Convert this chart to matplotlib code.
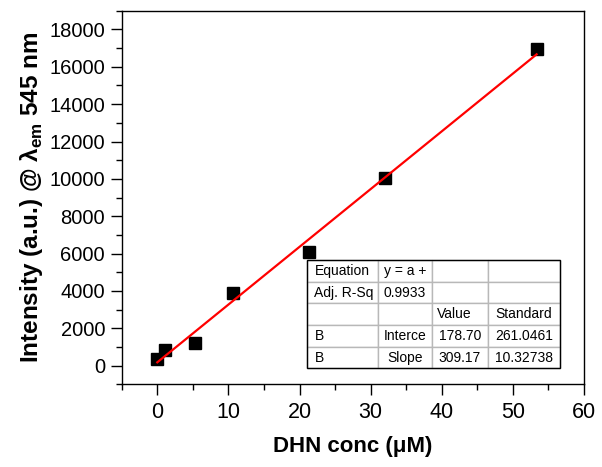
import numpy as np
import matplotlib
matplotlib.use("Agg")
import matplotlib.pyplot as plt
from matplotlib.patches import Rectangle

plt.rcParams['font.family'] = ['Liberation Sans', 'DejaVu Sans']
plt.rcParams['mathtext.fontset'] = 'custom'
plt.rcParams['mathtext.rm'] = 'Liberation Sans'
plt.rcParams['mathtext.bf'] = 'Liberation Sans:bold'

# data
conc = np.array([0, 1.07, 5.33, 10.67, 21.33, 32.0, 53.33])
intensity = np.array([330, 850, 1220, 3900, 6110, 10060, 16950])

# linear fit values (as printed in the table)
intercept = 178.70
slope = 309.17

table_rows = [
    ["Equation", "y = a +", "", ""],
    ["Adj. R-Sq", "0.9933", "", ""],
    ["", "", "Value", "Standard"],
    ["B", "Interce", "178.70", "261.0461"],
    ["B", "Slope", "309.17", "10.32738"],
]

fig = plt.figure(figsize=(6.02, 4.67), dpi=100)
ax = fig.add_axes([0.2022, 0.177, 0.768, 0.8])

xfit = np.array([conc.min(), conc.max()])
ax.plot(conc, intensity, 's', color='black', markersize=8.5, zorder=3)
ax.plot(xfit, intercept + slope * xfit, color='red', linewidth=1.6, zorder=4)

ax.set_xlim(-5, 60)
ax.set_ylim(-1000, 19000)
ax.set_xticks(np.arange(0, 61, 10))
ax.set_xticks(np.arange(-5, 61, 5), minor=True)
ax.set_yticks(np.arange(0, 18001, 2000))
ax.set_yticks(np.arange(-1000, 19001, 1000), minor=True)
ax.tick_params(which='major', direction='out', length=8, width=1)
ax.tick_params(which='minor', direction='out', length=4, width=1)
ax.tick_params(axis='y', labelsize=14.5, pad=4)
ax.tick_params(axis='x', labelsize=15.5, pad=5)
for s in ax.spines.values():
    s.set_linewidth(1.0)

ax.set_xlabel('DHN conc (μM)', fontsize=16, fontweight='bold', labelpad=9)
ax.set_ylabel(r'Intensity (a.u.) @ λ$_{\mathregular{em}}$ 545 nm', fontsize=17.5,
              fontweight='bold', labelpad=3)

# fit result table
tx0, tx1, ty0, ty1 = 0.4015, 0.948, 0.0428, 0.3327
widths = np.array([71, 53.4, 56, 72.3])
widths = widths / widths.sum()
tab = ax.table(cellText=table_rows, colWidths=list(widths),
               bbox=[tx0, ty0, tx1 - tx0, ty1 - ty0], zorder=5)
tab.auto_set_font_size(False)
for (r, c), cell in tab.get_celld().items():
    cell.set_edgecolor('#b8b8b8')
    cell.set_linewidth(1.0)
    cell.set_facecolor('white')
    txt = cell.get_text()
    txt.set_fontsize(10)
    if c == 0 or r < 3:
        cell._loc = 'left'
        txt.set_horizontalalignment('left')
        cell.PAD = 0.1
    else:
        cell._loc = 'center'
        txt.set_horizontalalignment('center')
ax.add_patch(Rectangle((tx0, ty0), tx1 - tx0, ty1 - ty0, transform=ax.transAxes,
                       fill=False, edgecolor='black', linewidth=1.0, zorder=6))

fig.savefig('out.png', dpi=100)
